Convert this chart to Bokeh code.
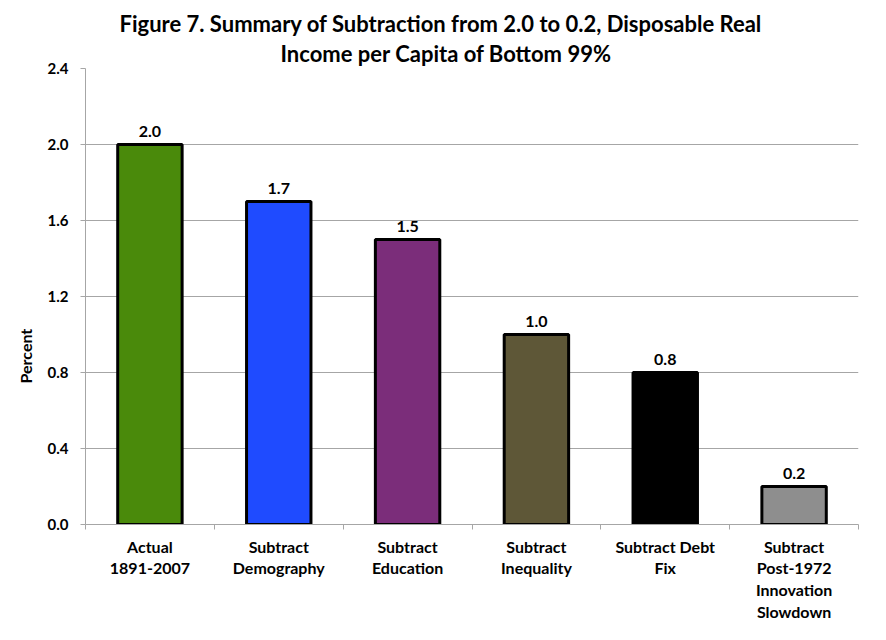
from bokeh.plotting import figure
from bokeh.models import ColumnDataSource, LabelSet, FixedTicker, Range1d, Title
from bokeh.core.properties import value
from bokeh.embed import file_html
from bokeh.resources import INLINE

categories = ["Actual\n1891-2007", "Subtract\nDemography", "Subtract\nEducation",
              "Subtract\nInequality", "Subtract Debt\nFix", "Subtract\nPost-1972\nInnovation\nSlowdown"]
values = [2.0, 1.7, 1.5, 1.0, 0.8, 0.2]
colors = ["#4A8A0B", "#1F4BFF", "#7B2D7A", "#5E5737", "#000000", "#8E8E8E"]
value_labels = ["2.0", "1.7", "1.5", "1.0", "0.8", "0.2"]
y_ticks = [0.0, 0.4, 0.8, 1.2, 1.6, 2.0, 2.4]
title_line1 = "Figure 7. Summary of Subtraction from 2.0 to 0.2, Disposable Real"
title_line2 = "Income per Capita of Bottom 99%"
y_label = "Percent"

FONT = "Lato"
xpos = [i + 0.5 for i in range(len(categories))]
src = ColumnDataSource(dict(x=xpos, top=values, color=colors, lab=value_labels))

p = figure(width=878, height=632, output_backend="svg", toolbar_location=None,
           x_range=Range1d(0, len(categories)), y_range=Range1d(0, 2.4),
           min_border_left=85, min_border_right=20, min_border_top=68, min_border_bottom=108)
p.outline_line_color = None
p.background_fill_color = "white"

p.vbar(x="x", top="top", width=0.5, bottom=0, fill_color="color", line_color="black",
       line_width=3, source=src)

p.add_layout(LabelSet(x="x", y="top", text="lab", source=src, y_offset=8,
                      text_align="center", text_baseline="bottom",
                      text_font=value(FONT), text_font_style="bold", text_font_size="16px",
                      text_color="black"))

# titles
p.title.text = title_line1
p.title.align = "left"
p.title.offset = 34
p.title.text_font = FONT
p.title.text_font_style = "bold"
p.title.text_font_size = "22px"
p.title.text_color = "black"
p.title.standoff = -3
t2 = Title(text=title_line2, align="left", offset=195, text_font=FONT, text_color="black",
           text_font_style="bold", text_font_size="22px", standoff=4)
p.add_layout(t2, "above")

p.add_layout(Title(text=y_label, align="left", offset=141, text_font=FONT, text_color="black",
                   text_font_style="bold", text_font_size="16px", standoff=20), "left")

# axes
p.xgrid.grid_line_color = None
p.ygrid.grid_line_color = "#A6A6A6"
p.ygrid.grid_line_width = 1
p.yaxis.ticker = FixedTicker(ticks=y_ticks)
p.yaxis.major_label_overrides = {t: f"{t:.1f}" for t in y_ticks}
p.yaxis.axis_line_color = "#A6A6A6"
p.yaxis.major_tick_line_color = "#A6A6A6"
p.yaxis.major_tick_in = 0
p.yaxis.major_tick_out = 5
p.yaxis.minor_tick_line_color = None
p.yaxis.major_label_text_font = FONT
p.yaxis.major_label_text_font_style = "bold"
p.yaxis.major_label_text_font_size = "15px"
p.yaxis.major_label_text_color = "black"
p.yaxis.major_label_standoff = 12

p.xaxis.ticker = FixedTicker(ticks=xpos, minor_ticks=list(range(len(categories) + 1)))
p.xaxis.major_label_overrides = {x: c for x, c in zip(xpos, categories)}
p.xaxis.axis_line_color = "#A6A6A6"
p.xaxis.major_tick_line_color = None
p.xaxis.minor_tick_line_color = "#A6A6A6"
p.xaxis.minor_tick_in = 0
p.xaxis.minor_tick_out = 5
p.xaxis.major_label_text_font = FONT
p.xaxis.major_label_text_font_style = "bold"
p.xaxis.major_label_text_font_size = "16px"
p.xaxis.major_label_text_color = "black"
p.xaxis.major_label_text_line_height = 1.15
p.xaxis.major_label_standoff = 6

open("out.html", "w").write(file_html(p, INLINE))
